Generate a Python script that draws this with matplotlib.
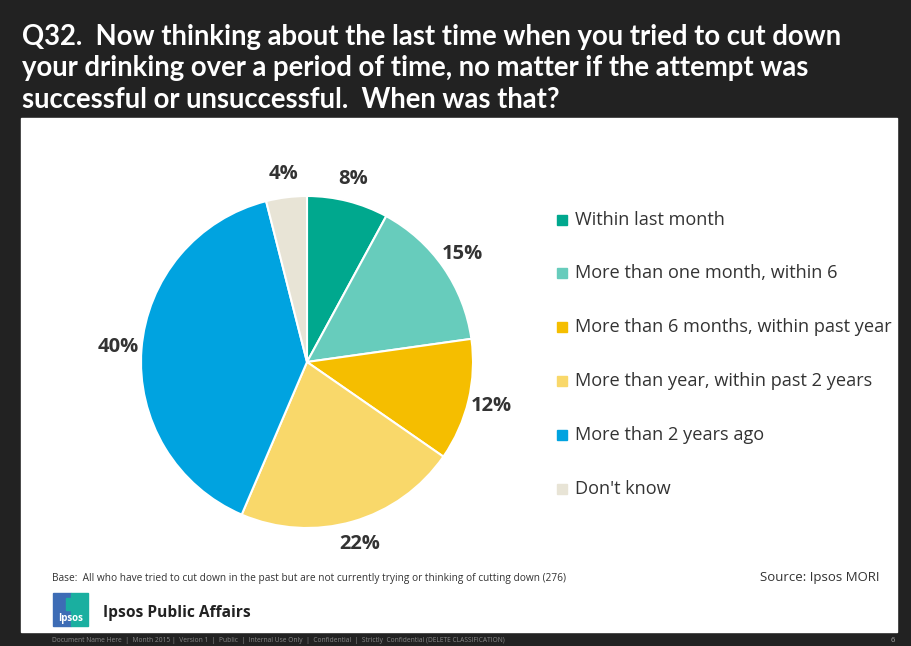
import matplotlib.pyplot as plt
from matplotlib.patches import Rectangle

# Data
categories = ['Within last month', 'More than one month, within 6',
              'More than 6 months, within past year', 'More than year, within past 2 years',
              'More than 2 years ago', "Don't know"]
values = [8, 15, 12, 22, 40, 4]
colors = ['#00A88E', '#67CCBC', '#F5BE00', '#F9D86A', '#00A3E0', '#E8E4D6']

title = ("Q32.  Now thinking about the last time when you tried to cut down\n"
         "your drinking over a period of time, no matter if the attempt was\n"
         "successful or unsuccessful.  When was that?")
base_note = "Base:  All who have tried to cut down in the past but are not currently trying or thinking of cutting down (276)"
source_note = "Source: Ipsos MORI"
footer = ("Document Name Here  |  Month 2015 |  Version 1  |  Public  |  Internal Use Only  |  "
          "Confidential  |  Strictly  Confidential (DELETE CLASSIFICATION)")

W, H = 911, 646
fig = plt.figure(figsize=(W / 100, H / 100), dpi=100)
fig.patch.set_facecolor('#222222')
plt.rcParams['font.family'] = ['Open Sans', 'DejaVu Sans']

# White panel
bg = fig.add_axes([0, 0, 1, 1])
bg.set_xlim(0, W)
bg.set_ylim(H, 0)
bg.axis('off')
bg.add_patch(Rectangle((21, 118), 876, 514, color='white', zorder=0))

# Title
fig.text(22 / W, 1 - 24 / H, title, color='white', fontsize=19.8, fontweight='bold',
         va='top', ha='left', linespacing=1.25, family=['Lato', 'DejaVu Sans'])

# Pie
cx, cy, r = 307, 362, 166
ax = fig.add_axes([(cx - r) / W, 1 - (cy + r) / H, 2 * r / W, 2 * r / H])
total = sum(values)
wedges, texts, autotexts = ax.pie(
    values, colors=colors, startangle=90, counterclock=False,
    autopct=lambda p: f"{p * total / 100:.0f}%", pctdistance=1.14,
    wedgeprops=dict(edgecolor='white', linewidth=1.5), radius=1)
for t in autotexts:
    t.set_fontsize(14.5)
    t.set_fontweight('bold')
    t.set_color('#333333')
ax.set_xlim(-1, 1)
ax.set_ylim(-1, 1)
ax.set_aspect('equal')

# Legend
leg_y = [220, 273, 327, 381, 435, 489]
for cat, col, y in zip(categories, colors, leg_y):
    bg.add_patch(Rectangle((557, y - 5), 10, 10, color=col))
    bg.text(575, y, cat, fontsize=13.1, color='#333333', va='center', ha='left')

# Notes
bg.text(52, 578, base_note, fontsize=7.3, color='#333333', va='center', ha='left')
bg.text(880, 578, source_note, fontsize=9.5, color='#333333', va='center', ha='right')

# Logo
bg.add_patch(Rectangle((53, 593), 18, 33, color='#3D6CB5'))
bg.add_patch(Rectangle((71, 593), 17, 33, color='#1AAFA0'))
bg.add_patch(Rectangle((66, 598), 9, 12, color='#1AAFA0'))
bg.text(70.5, 618, 'Ipsos', fontsize=7, color='white', fontweight='bold', va='center', ha='center')
bg.text(103, 613, 'Ipsos Public Affairs', fontsize=11.2, color='#222222', fontweight='bold',
        va='center', ha='left')

# Footer strip
bg.text(52, 640, footer, fontsize=4.8, color='#888888', va='center', ha='left')
bg.text(895, 640, '6', fontsize=5.5, color='#aaaaaa', va='center', ha='right')

fig.savefig('out.png', dpi=100, facecolor=fig.get_facecolor())
